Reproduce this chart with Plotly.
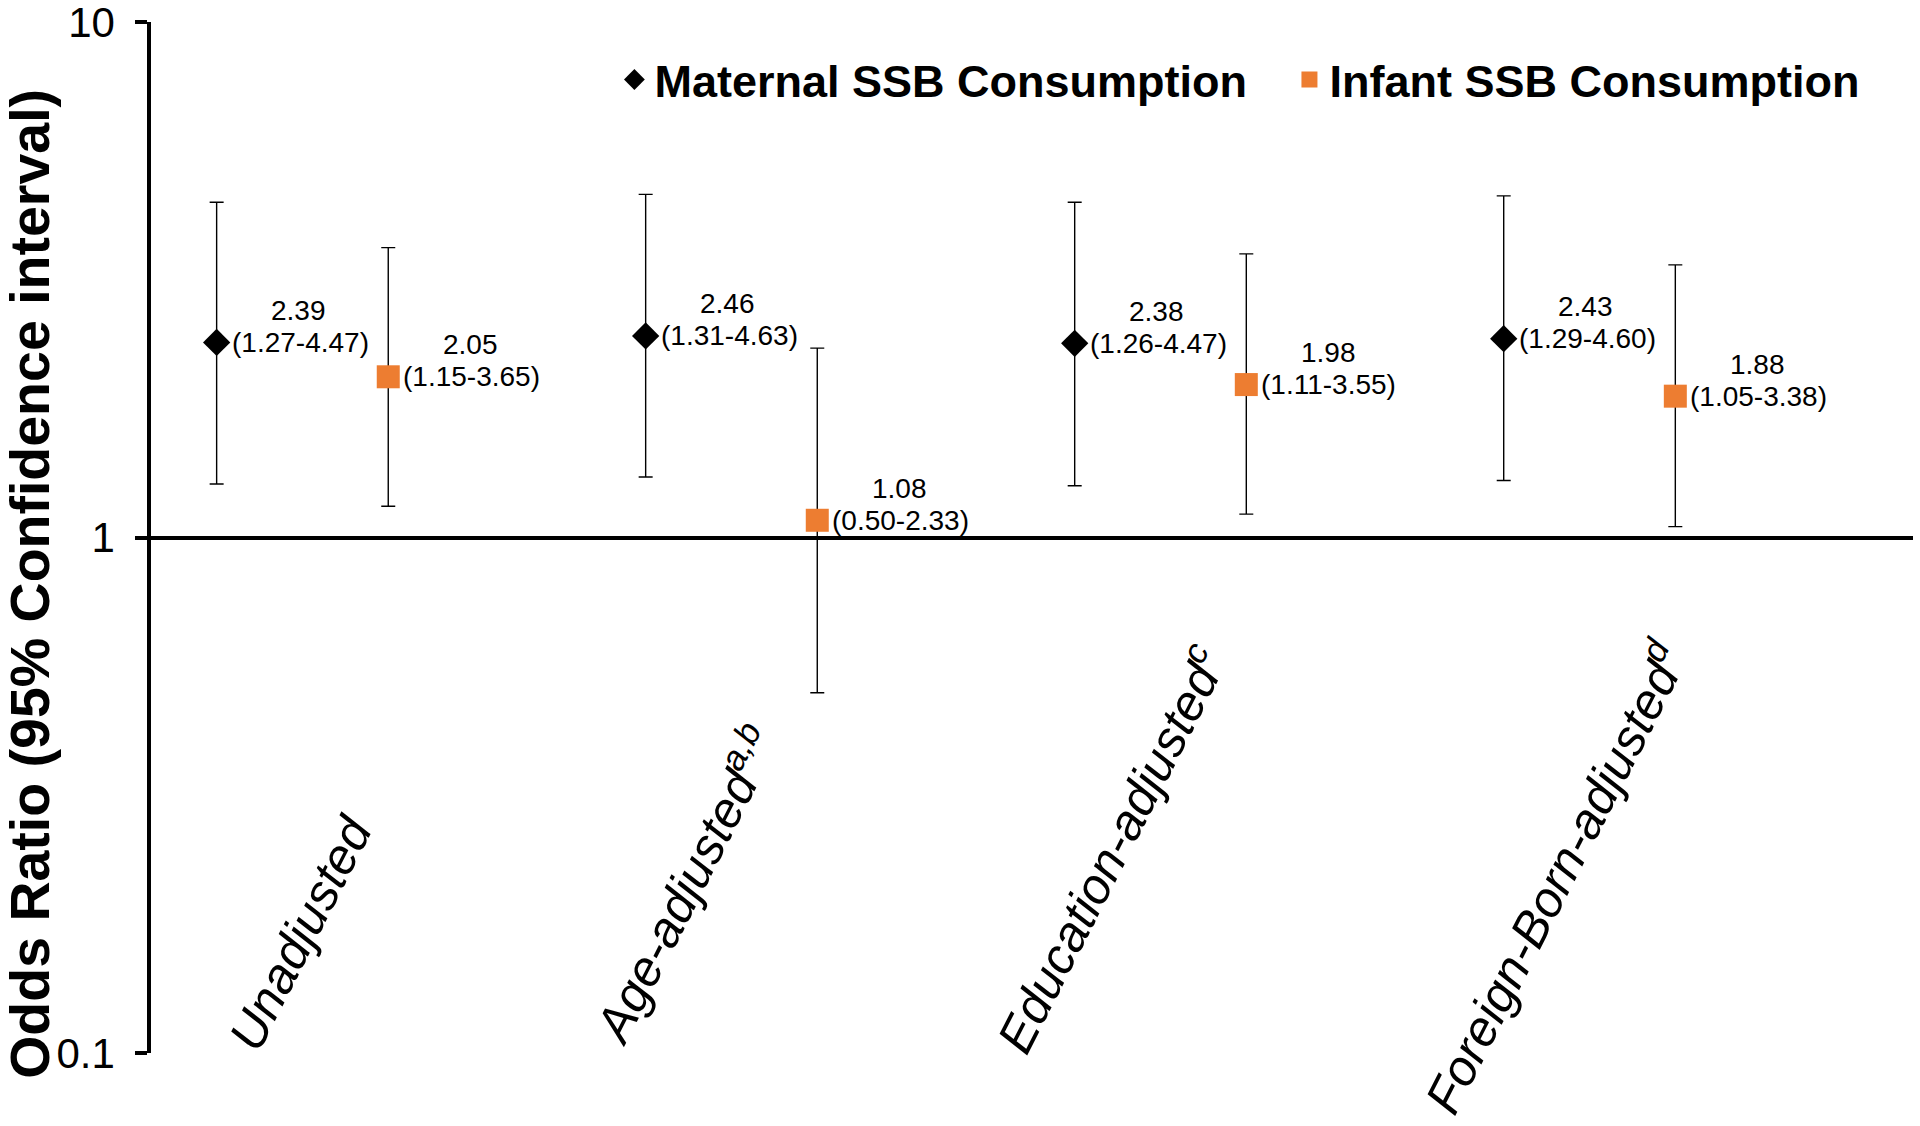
import math
import plotly.graph_objects as go

# ---------------- data ----------------
categories = [
    "Unadjusted",
    "Age-adjusted<sup>a,b</sup>",
    "Education-adjusted<sup>c</sup>",
    "Foreign-Born-adjusted<sup>d</sup>",
]
maternal_or = [2.39, 2.46, 2.38, 2.43]
maternal_lo = [1.27, 1.31, 1.26, 1.29]
maternal_hi = [4.47, 4.63, 4.47, 4.60]
infant_or = [2.05, 1.08, 1.98, 1.88]
infant_lo = [1.15, 0.50, 1.11, 1.05]
infant_hi = [3.65, 2.33, 3.55, 3.38]
y_tick_vals = [0.1, 1, 10]
y_tick_text = ["0.1", "1", "10"]
series_names = ["Maternal SSB Consumption", "Infant SSB Consumption"]

# ---------------- style ----------------
FONT = "Liberation Sans, Arial, sans-serif"
ORANGE = "#ED7D31"
OFFSET = 0.2
NBSP = "\u00a0"
idx = list(range(len(categories)))
x_mat = [i - OFFSET for i in idx]
x_inf = [i + OFFSET for i in idx]

fig = go.Figure()

def add_series(xs, ors, los, his, name, symbol, color, size):
    fig.add_trace(go.Scatter(
        x=xs, y=ors, mode="markers", name=name,
        marker=dict(symbol=symbol, color=color, size=size, line=dict(width=0)),
        error_y=dict(type="data", symmetric=False,
                     array=[h - v for h, v in zip(his, ors)],
                     arrayminus=[v - l for v, l in zip(ors, los)],
                     color="black", thickness=1.4, width=7),
        cliponaxis=False,
    ))

add_series(x_mat, maternal_or, maternal_lo, maternal_hi,
           series_names[0] + NBSP * 3, "diamond", "black", 21)
add_series(x_inf, infant_or, infant_lo, infant_hi,
           series_names[1], "square", ORANGE, 23)

annotations = []
# data labels
for xs, ors, los, his in [(x_mat, maternal_or, maternal_lo, maternal_hi),
                          (x_inf, infant_or, infant_lo, infant_hi)]:
    for x, v, lo, hi in zip(xs, ors, los, his):
        annotations.append(dict(
            x=x, y=math.log10(v), xref="x", yref="y", showarrow=False,
            text=f"({lo:.2f}-{hi:.2f})", xanchor="left", yanchor="middle",
            xshift=13, font=dict(family=FONT, size=28, color="black")))
        annotations.append(dict(
            x=x, y=math.log10(v), xref="x", yref="y", showarrow=False,
            text=f"{v:.2f}", xanchor="center", yanchor="middle",
            xshift=82, yshift=32, font=dict(family=FONT, size=28, color="black")))

# category labels (rotated)
cat_pos = [(-0.003, -0.768), (0.889, -0.673), (1.881, -0.603), (2.917, -0.657)]
for txt, (cx, cy) in zip(categories, cat_pos):
    annotations.append(dict(
        x=cx, y=cy, xref="x", yref="y", showarrow=False, text=txt,
        textangle=-63, xanchor="center", yanchor="middle",
        font=dict(family=FONT, size=50, color="black", style="italic")))

# y-axis title
annotations.append(dict(
    x=-0.0687, y=0.455, xref="paper", yref="paper", showarrow=False,
    text="Odds Ratio (95% Confidence interval)", textangle=-90,
    xanchor="center", yanchor="middle",
    font=dict(family=FONT, size=55.5, color="black", weight="bold")))

fig.update_layout(
    width=1920, height=1126,
    margin=dict(l=151, r=7, t=22, b=73, autoexpand=False),
    paper_bgcolor="white", plot_bgcolor="white",
    showlegend=True,
    legend=dict(orientation="h", x=0.263, xanchor="left", y=0.944, yanchor="middle",
                font=dict(family=FONT, size=45, color="black", weight="bold"),
                bgcolor="rgba(0,0,0,0)"),
    annotations=annotations,
    xaxis=dict(range=[-0.353, 3.754], anchor="free", position=0.5, automargin=False,
               showline=True, linecolor="black", linewidth=3.8,
               showgrid=False, zeroline=False, showticklabels=False, ticks=""),
    yaxis=dict(type="log", range=[-1, 1], tickvals=y_tick_vals, ticktext=y_tick_text,
               automargin=False,
               showline=True, linecolor="black", linewidth=3.5,
               ticks="outside", ticklen=12, tickwidth=3.5, tickcolor="black",
               showgrid=False, zeroline=False, ticklabelstandoff=12,
               ticklabeloverflow="allow",
               tickfont=dict(family=FONT, size=42, color="black")),
)

fig.write_html("out.html", config={"displayModeBar": False},
               post_script="document.body.style.margin='0';document.body.style.overflow='hidden';")
